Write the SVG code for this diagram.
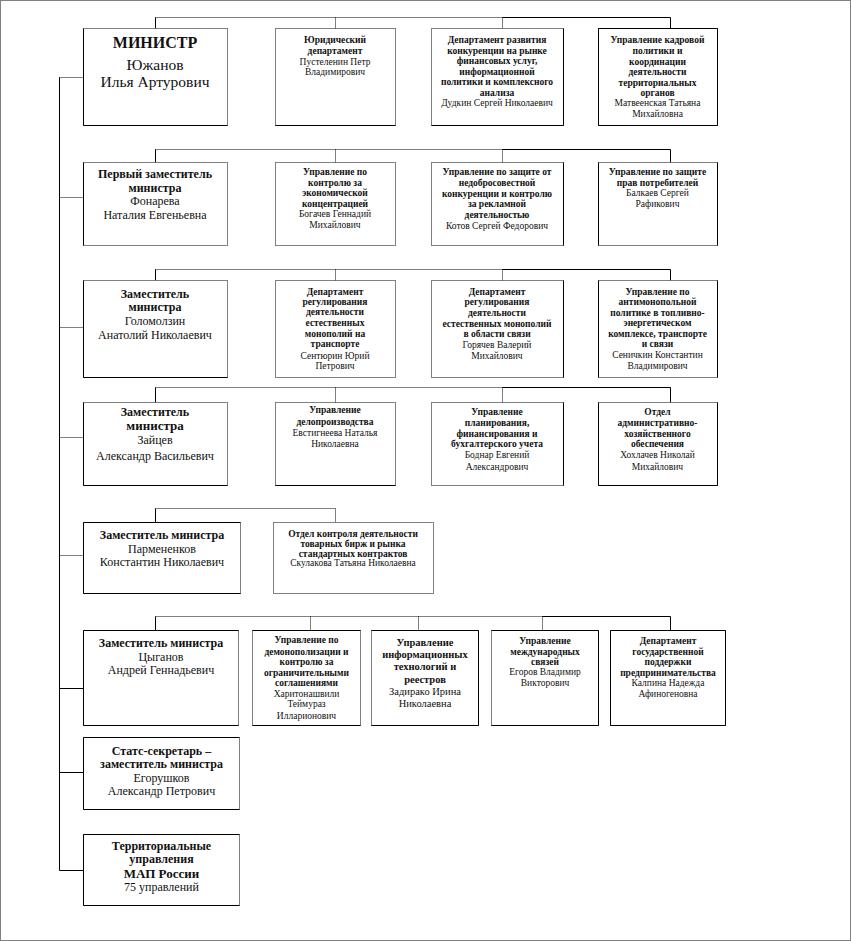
<svg xmlns="http://www.w3.org/2000/svg" width="851" height="941" viewBox="0 0 851 941">
<style>
text{font-family:"Liberation Serif","DejaVu Serif",serif;fill:#111;text-anchor:middle}
.s{font-size:9.5px}
.sb{font-size:9.5px;font-weight:bold}
.m{font-size:12px}
.mb{font-size:12px;font-weight:bold}
.bx{fill:#fff;stroke:#000;stroke-width:1;stroke-dasharray:1 1}
.sl{fill:none;stroke:#000;stroke-width:1}
.dl{fill:none;stroke:#000;stroke-width:1;stroke-dasharray:1 1}
</style>
<rect x="0.5" y="0.5" width="850" height="940" fill="#fff" stroke="#808080"/>
<g id="connectors">
<path class="sl" d="M155.5 17.5V28.5M670.5 17.5V28.5M502.5 17.5H670.5"/>
<path class="dl" d="M155.5 17.5H502.5M335.5 17.5V28.5M502.5 17.5V28.5"/>
<path class="sl" d="M155.5 149.5V162.5M670.5 149.5V162.5M502.5 149.5H670.5"/>
<path class="dl" d="M155.5 149.5H502.5M335.5 149.5V162.5M502.5 149.5V162.5"/>
<path class="sl" d="M155.5 269.5V280.5M670.5 269.5V280.5M502.5 269.5H670.5"/>
<path class="dl" d="M155.5 269.5H502.5M335.5 269.5V280.5M502.5 269.5V280.5"/>
<path class="sl" d="M155.5 387.5V402.5M670.5 387.5V402.5M502.5 387.5H670.5"/>
<path class="dl" d="M155.5 387.5H502.5M335.5 387.5V402.5M502.5 387.5V402.5"/>
<path class="sl" d="M155.5 508.5V522.5"/>
<path class="dl" d="M155.5 508.5H335.5V522.5"/>
<path class="sl" d="M155.5 616.5V630.5M670.5 616.5V630.5M542.5 616.5H670.5"/>
<path class="dl" d="M155.5 616.5H542.5M310.5 616.5V630.5M418.5 616.5V630.5M542.5 616.5V630.5"/>
<path class="sl" d="M59.5 77.5V870.5M59.5 688.5H83.5M59.5 772.5H83.5M59.5 870.5H83.5"/>
<path class="dl" d="M59.5 77.5H83.5M59.5 197.5H83.5M59.5 327.5H83.5M59.5 437.5H83.5M59.5 555.5H83.5"/>
</g>

<g id="minister">
<rect class="bx" x="83.5" y="28.5" width="144" height="97"/>
<path class="sl" d="M83.5 28.5V125.5H227.5"/>
<text x="155" y="48" style="font-size:16px;font-weight:bold">МИНИСТР</text>
<text x="155" y="70" style="font-size:15.5px">Южанов</text>
<text x="155" y="87" style="font-size:15.5px">Илья Артурович</text>
</g>
<g id="legal">
<rect class="bx" x="275.5" y="28.5" width="120" height="97"/>
<path class="sl" d="M275.5 125.5H395.5"/>
<text class="sb" x="335" y="43">Юридический</text>
<text class="sb" x="335" y="53.5">департамент</text>
<text class="s" x="335" y="64.5">Пустеленин Петр</text>
<text class="s" x="335" y="75">Владимирович</text>
</g>
<g id="dep-competition">
<rect class="bx" x="431.5" y="28.5" width="132" height="97"/>
<path class="sl" d="M563.5 28.5V125.5H431.5"/>
<text class="sb" x="497" y="43">Департамент развития</text>
<text class="sb" x="497" y="53.5">конкуренции на рынке</text>
<text class="sb" x="497" y="64">финансовых услуг,</text>
<text class="sb" x="497" y="74.5">информационной</text>
<text class="sb" x="497" y="85">политики и комплексного</text>
<text class="sb" x="497" y="95.5">анализа</text>
<text class="s" x="497" y="106">Дудкин Сергей Николаевич</text>
</g>
<g id="dep-personnel">
<rect class="bx" x="598.5" y="28.5" width="119" height="97"/>
<path class="sl" d="M598.5 28.5H717.5V125.5H598.5Z"/>
<text class="sb" x="657.5" y="43">Управление кадровой</text>
<text class="sb" x="657.5" y="54">политики и</text>
<text class="sb" x="657.5" y="64.5">координации</text>
<text class="sb" x="657.5" y="74.5">деятельности</text>
<text class="sb" x="657.5" y="85.5">территориальных</text>
<text class="sb" x="657.5" y="95.5">органов</text>
<text class="s" x="657.5" y="106">Матвеенская Татьяна</text>
<text class="s" x="657.5" y="116.5">Михайловна</text>
</g>

<g id="first-deputy">
<rect class="bx" x="83.5" y="162.5" width="144" height="83"/>
<path class="sl" d="M83.5 162.5V245.5"/>
<text class="mb" x="155" y="178">Первый заместитель</text>
<text class="mb" x="155" y="191.5">министра</text>
<text class="m" x="155" y="205">Фонарева</text>
<text class="m" x="155" y="219">Наталия Евгеньевна</text>
</g>
<g id="econ-concentration">
<rect class="bx" x="275.5" y="162.5" width="120" height="83"/>
<text class="sb" x="335" y="175">Управление по</text>
<text class="sb" x="335" y="185.5">контролю за</text>
<text class="sb" x="335" y="196">экономической</text>
<text class="sb" x="335" y="206.5">концентрацией</text>
<text class="s" x="335" y="217">Богачев Геннадий</text>
<text class="s" x="335" y="227.5">Михайлович</text>
</g>
<g id="unfair-competition">
<rect class="bx" x="431.5" y="162.5" width="132" height="83"/>
<path class="sl" d="M563.5 162.5V245.5"/>
<text class="sb" x="497" y="175">Управление по защите от</text>
<text class="sb" x="497" y="186">недобросовестной</text>
<text class="sb" x="497" y="196.5">конкуренции и контролю</text>
<text class="sb" x="497" y="207">за рекламной</text>
<text class="sb" x="497" y="217.5">деятельностью</text>
<text class="s" x="497" y="228.5">Котов Сергей Федорович</text>
</g>
<g id="consumer-rights">
<rect class="bx" x="598.5" y="162.5" width="119" height="83"/>
<path class="sl" d="M598.5 162.5V245.5M717.5 162.5V245.5"/>
<text class="sb" x="657.5" y="175">Управление по защите</text>
<text class="sb" x="657.5" y="185.5">прав потребителей</text>
<text class="s" x="657.5" y="196">Балкаев Сергей</text>
<text class="s" x="657.5" y="206.5">Рафикович</text>
</g>

<g id="deputy-golomolzin">
<rect class="bx" x="83.5" y="280.5" width="144" height="97"/>
<path class="sl" d="M83.5 280.5V377.5H227.5"/>
<text class="mb" x="155" y="297.5">Заместитель</text>
<text class="mb" x="155" y="311">министра</text>
<text class="m" x="155" y="324.5">Голомолзин</text>
<text class="m" x="155" y="339">Анатолий Николаевич</text>
</g>
<g id="transport-monopolies">
<rect class="bx" x="275.5" y="280.5" width="120" height="97"/>
<text class="sb" x="335" y="294.5">Департамент</text>
<text class="sb" x="335" y="304.5">регулирования</text>
<text class="sb" x="335" y="315">деятельности</text>
<text class="sb" x="335" y="326">естественных</text>
<text class="sb" x="335" y="336.5">монополий на</text>
<text class="sb" x="335" y="346.5">транспорте</text>
<text class="s" x="335" y="358.5">Сентюрин Юрий</text>
<text class="s" x="335" y="369">Петрович</text>
</g>
<g id="communication-monopolies">
<rect class="bx" x="431.5" y="280.5" width="132" height="97"/>
<path class="sl" d="M563.5 280.5V377.5"/>
<text class="sb" x="497" y="294.5">Департамент</text>
<text class="sb" x="497" y="305">регулирования</text>
<text class="sb" x="497" y="316">деятельности</text>
<text class="sb" x="497" y="326.5">естественных монополий</text>
<text class="sb" x="497" y="337">в области связи</text>
<text class="s" x="497" y="347.5">Горячев Валерий</text>
<text class="s" x="497" y="358.5">Михайлович</text>
</g>
<g id="fuel-energy">
<rect class="bx" x="598.5" y="280.5" width="119" height="97"/>
<path class="sl" d="M598.5 280.5V377.5M717.5 280.5V377.5"/>
<text class="sb" x="657.5" y="294.5">Управление по</text>
<text class="sb" x="657.5" y="305">антимонопольной</text>
<text class="sb" x="657.5" y="315.5">политике в топливно-</text>
<text class="sb" x="657.5" y="326">энергетическом</text>
<text class="sb" x="657.5" y="336.5">комплексе, транспорте</text>
<text class="sb" x="657.5" y="347">и связи</text>
<text class="s" x="657.5" y="358">Сеничкин Константин</text>
<text class="s" x="657.5" y="369">Владимирович</text>
</g>

<g id="deputy-zaitsev">
<rect class="bx" x="83.5" y="402.5" width="144" height="83"/>
<path class="sl" d="M83.5 402.5V485.5H227.5"/>
<text class="mb" x="155" y="416">Заместитель</text>
<text class="mb" x="155" y="430" style="font-size:13px">министра</text>
<text class="m" x="155" y="444">Зайцев</text>
<text class="m" x="155" y="460">Александр Васильевич</text>
</g>
<g id="records">
<rect class="bx" x="275.5" y="402.5" width="120" height="83"/>
<path class="sl" d="M275.5 485.5H395.5"/>
<text class="sb" x="335" y="413">Управление</text>
<text class="sb" x="335" y="424.5">делопроизводства</text>
<text class="s" x="335" y="436">Евстигнеева Наталья</text>
<text class="s" x="335" y="447">Николаевна</text>
</g>
<g id="planning">
<rect class="bx" x="431.5" y="402.5" width="132" height="83"/>
<path class="sl" d="M563.5 402.5V485.5"/>
<text class="sb" x="497" y="415">Управление</text>
<text class="sb" x="497" y="426">планирования,</text>
<text class="sb" x="497" y="436.5">финансирования и</text>
<text class="sb" x="497" y="447">бухгалтерского учета</text>
<text class="s" x="497" y="458">Боднар Евгений</text>
<text class="s" x="497" y="469.5">Александрович</text>
</g>
<g id="admin">
<rect class="bx" x="598.5" y="402.5" width="119" height="83"/>
<path class="sl" d="M598.5 402.5V485.5H717.5V402.5"/>
<text class="sb" x="657.5" y="415">Отдел</text>
<text class="sb" x="657.5" y="426">административно-</text>
<text class="sb" x="657.5" y="436.5">хозяйственного</text>
<text class="sb" x="657.5" y="447">обеспечения</text>
<text class="s" x="657.5" y="458">Хохлачев Николай</text>
<text class="s" x="657.5" y="469.5">Михайлович</text>
</g>

<g id="deputy-parmenenkov">
<rect class="bx" x="83.5" y="522.5" width="157" height="71"/>
<path class="sl" d="M240.5 522.5H83.5V593.5H240.5"/>
<text class="mb" x="162" y="539">Заместитель министра</text>
<text class="m" x="162" y="552.5">Пармененков</text>
<text class="m" x="162" y="566">Константин Николаевич</text>
</g>
<g id="exchanges">
<rect class="bx" x="273.5" y="522.5" width="160" height="71"/>
<text class="sb" x="353" y="536.5">Отдел контроля деятельности</text>
<text class="sb" x="353" y="546.5">товарных бирж и рынка</text>
<text class="sb" x="353" y="556.5">стандартных контрактов</text>
<text class="s" x="353" y="566">Скулакова Татьяна Николаевна</text>
</g>

<g id="deputy-tsyganov">
<rect class="bx" x="83.5" y="630.5" width="155" height="95"/>
<path class="sl" d="M238.5 630.5H83.5V725.5H238.5"/>
<text class="mb" x="161" y="647">Заместитель министра</text>
<text class="m" x="161" y="660.5">Цыганов</text>
<text class="m" x="161" y="674">Андрей Геннадьевич</text>
</g>
<g id="demonopolization">
<rect class="bx" x="252.5" y="630.5" width="108" height="95"/>
<path class="sl" d="M252.5 630.5H360.5M252.5 725.5H360.5"/>
<text class="sb" x="306.5" y="643">Управление по</text>
<text class="sb" x="306.5" y="654.5">демонополизации и</text>
<text class="sb" x="306.5" y="665">контролю за</text>
<text class="sb" x="306.5" y="675.5">ограничительными</text>
<text class="sb" x="306.5" y="686">соглашениями</text>
<text class="s" x="306.5" y="696.5">Харитонашвили</text>
<text class="s" x="306.5" y="707">Теймураз</text>
<text class="s" x="306.5" y="718.5">Илларионович</text>
</g>
<g id="it-registries">
<rect class="bx" x="371.5" y="630.5" width="107" height="95"/>
<path class="sl" d="M371.5 630.5H478.5V725.5H371.5"/>
<text x="425" y="646" style="font-size:10.5px;font-weight:bold">Управление</text>
<text x="425" y="658" style="font-size:10.5px;font-weight:bold">информационных</text>
<text x="425" y="670" style="font-size:10.5px;font-weight:bold">технологий и</text>
<text x="425" y="682.5" style="font-size:10.5px;font-weight:bold">реестров</text>
<text x="425" y="694.5" style="font-size:10.5px">Задирако Ирина</text>
<text x="425" y="706.5" style="font-size:10.5px">Николаевна</text>
</g>
<g id="international">
<rect class="bx" x="491.5" y="630.5" width="107" height="95"/>
<path class="sl" d="M491.5 630.5H598.5V725.5H491.5"/>
<text class="sb" x="545" y="644">Управление</text>
<text class="sb" x="545" y="654.5">международных</text>
<text class="sb" x="545" y="664.5">связей</text>
<text class="s" x="545" y="675">Егоров Владимир</text>
<text class="s" x="545" y="686">Викторович</text>
</g>
<g id="enterprise-support">
<rect class="bx" x="610.5" y="630.5" width="115" height="95"/>
<path class="sl" d="M610.5 630.5H725.5V725.5H610.5Z"/>
<text class="sb" x="668" y="644">Департамент</text>
<text class="sb" x="668" y="654.5">государственной</text>
<text class="sb" x="668" y="665">поддержки</text>
<text class="sb" x="668" y="675.5">предпринимательства</text>
<text class="s" x="668" y="686">Калпина Надежда</text>
<text class="s" x="668" y="697">Афиногеновна</text>
</g>

<g id="state-secretary">
<rect class="bx" x="83.5" y="737.5" width="156" height="72"/>
<path class="sl" d="M239.5 737.5H83.5V809.5H239.5"/>
<text class="mb" x="161.5" y="754.5">Статс-секретарь –</text>
<text class="mb" x="161.5" y="768">заместитель министра</text>
<text class="m" x="161.5" y="781.5">Егорушков</text>
<text class="m" x="161.5" y="795">Александр Петрович</text>
</g>
<g id="territorial">
<rect class="bx" x="83.5" y="834.5" width="156" height="71"/>
<path class="sl" d="M239.5 834.5H83.5V905.5H239.5"/>
<text class="mb" x="161.5" y="849.5">Территориальные</text>
<text class="mb" x="161.5" y="863">управления</text>
<text x="161.5" y="877.5" style="font-size:13px;font-weight:bold">МАП России</text>
<text class="m" x="161.5" y="891">75 управлений</text>
</g>
</svg>
